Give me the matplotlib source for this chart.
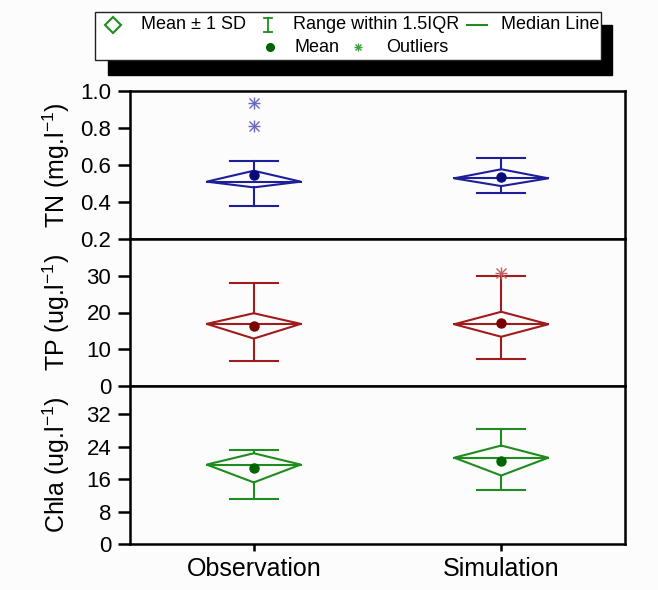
import matplotlib
matplotlib.use("Agg")
import matplotlib.pyplot as plt
from matplotlib.patches import Polygon, Rectangle
from matplotlib.lines import Line2D

plt.rcParams['font.family'] = ['Liberation Sans', 'DejaVu Sans']
plt.rcParams['mathtext.default'] = 'regular'

categories = ["Observation", "Simulation"]

# TN (mg/l)
tn_whisker_low = [0.378, 0.447]
tn_box_bottom = [0.479, 0.486]
tn_median = [0.510, 0.528]
tn_mean = [0.546, 0.537]
tn_box_top = [0.569, 0.577]
tn_whisker_high = [0.620, 0.640]
tn_outliers = [[0.811, 0.934], []]

# TP (ug/l)
tp_whisker_low = [6.9, 7.4]
tp_box_bottom = [12.9, 13.4]
tp_median = [16.9, 16.8]
tp_mean = [16.2, 17.1]
tp_box_top = [19.8, 20.2]
tp_whisker_high = [28.0, 30.0]
tp_outliers = [[], [30.7]]

# Chla (ug/l)
chla_whisker_low = [11.2, 13.3]
chla_box_bottom = [15.2, 16.9]
chla_median = [19.6, 21.3]
chla_mean = [18.7, 20.6]
chla_box_top = [22.4, 24.3]
chla_whisker_high = [23.3, 28.4]
chla_outliers = [[], []]

W, H = 658, 590
fig = plt.figure(figsize=(W / 100, H / 100), dpi=100)
fig.patch.set_facecolor('#fcfcfc')

def fx(px):
    return px / W

def fy(py):
    return 1 - py / H

left, right = 130, 625
bounds = [(91, 239), (239, 386), (386, 544)]
panels = [
    dict(lo=tn_whisker_low, bb=tn_box_bottom, med=tn_median, mean=tn_mean, bt=tn_box_top,
         hi=tn_whisker_high, out=tn_outliers, color='#1f1f99', dot='#0a0a7a', ocol='#6a6ac0',
         ylim=(0.2, 1.0), ticks=[0.2, 0.4, 0.6, 0.8, 1.0], fmt='{:.1f}', label='TN (mg.l$^{-1}$)'),
    dict(lo=tp_whisker_low, bb=tp_box_bottom, med=tp_median, mean=tp_mean, bt=tp_box_top,
         hi=tp_whisker_high, out=tp_outliers, color='#a01c1c', dot='#7a0000', ocol='#c06060',
         ylim=(0, 40), ticks=[0, 10, 20, 30], fmt='{:.0f}', label='TP (ug.l$^{-1}$)'),
    dict(lo=chla_whisker_low, bb=chla_box_bottom, med=chla_median, mean=chla_mean, bt=chla_box_top,
         hi=chla_whisker_high, out=chla_outliers, color='#1e8c1e', dot='#006400', ocol='#40a040',
         ylim=(0, 39), ticks=[0, 8, 16, 24, 32], fmt='{:.0f}', label='Chla (ug.l$^{-1}$)'),
]

dw = 0.19
cw = 0.096
xs = [1, 2]
for i, (p, (t, b)) in enumerate(zip(panels, bounds)):
    ax = fig.add_axes([fx(left), fy(b), fx(right) - fx(left), (b - t) / H])
    ax.set_facecolor('#fcfcfc')
    c = p['color']
    for j, x in enumerate(xs):
        poly = Polygon([(x - dw, p['med'][j]), (x, p['bt'][j]), (x + dw, p['med'][j]), (x, p['bb'][j])],
                       closed=True, fill=False, edgecolor=c, lw=1.5, joinstyle='miter')
        ax.add_patch(poly)
        ax.plot([x - dw, x + dw], [p['med'][j]] * 2, color=c, lw=1.5)
        ax.plot([x, x], [p['bt'][j], p['hi'][j]], color=c, lw=1.5)
        ax.plot([x, x], [p['bb'][j], p['lo'][j]], color=c, lw=1.5)
        ax.plot([x - cw, x + cw], [p['hi'][j]] * 2, color=c, lw=1.5)
        ax.plot([x - cw, x + cw], [p['lo'][j]] * 2, color=c, lw=1.5)
        ax.plot([x], [p['mean'][j]], 'o', color=p['dot'], ms=6.5, zorder=5)
        if p['out'][j]:
            for mk in ['+', 'x']:
                ax.plot([x] * len(p['out'][j]), p['out'][j], linestyle='none', marker=mk,
                        color=p['ocol'], ms=8 if mk == '+' else 6.5, mew=1.0)
    ax.set_xlim(0.5, 2.5)
    ax.set_ylim(*p['ylim'])
    ax.set_yticks(p['ticks'])
    ax.set_yticklabels([p['fmt'].format(v) for v in p['ticks']])
    ax.tick_params(axis='y', direction='out', length=8.5, width=1.8, labelsize=16, pad=5)
    for s in ax.spines.values():
        s.set_linewidth(1.8)
    if i < 2:
        ax.set_xticks([])
    else:
        ax.set_xticks(xs)
        ax.set_xticklabels(categories)
        ax.tick_params(axis='x', direction='out', length=5, width=1.8, labelsize=18, pad=4)
    fig.text(fx(56), fy((t + b) / 2), p['label'], rotation=90, ha='center', va='center', fontsize=18)

# Legend with shadow
fig.patches.append(Rectangle((fx(108), fy(75)), fx(612) - fx(108), fy(25) - fy(75),
                             transform=fig.transFigure, facecolor='black', edgecolor='black', zorder=1))
fig.patches.append(Rectangle((fx(95), fy(60)), fx(601) - fx(95), fy(12) - fy(60),
                             transform=fig.transFigure, facecolor='white', edgecolor='#222222', lw=1.0, zorder=2))
lg = '#1e8c1e'
r1, r2 = 24.5, 47
fig.add_artist(Line2D([fx(113)], [fy(r1)], marker='D', ms=8, mfc='none', mec=lg, mew=1.5,
                      transform=fig.transFigure, zorder=3))
fig.text(fx(141), fy(r1), 'Mean ± 1 SD', fontsize=13, va='center', ha='left', zorder=3)
# I symbol
fig.add_artist(Line2D([fx(268), fx(268)], [fy(r1 - 7), fy(r1 + 7)], color=lg, lw=1.3, transform=fig.transFigure, zorder=3))
fig.add_artist(Line2D([fx(264), fx(272)], [fy(r1 - 7)] * 2, color=lg, lw=1.3, transform=fig.transFigure, zorder=3))
fig.add_artist(Line2D([fx(264), fx(272)], [fy(r1 + 7)] * 2, color=lg, lw=1.3, transform=fig.transFigure, zorder=3))
fig.text(fx(293), fy(r1), 'Range within 1.5IQR', fontsize=13, va='center', ha='left', zorder=3)
fig.add_artist(Line2D([fx(467), fx(487)], [fy(r1)] * 2, color=lg, lw=1.5, transform=fig.transFigure, zorder=3))
fig.text(fx(501), fy(r1), 'Median Line', fontsize=13, va='center', ha='left', zorder=3)
fig.add_artist(Line2D([fx(270)], [fy(r2)], marker='o', ms=5.5, color='#006400',
                      transform=fig.transFigure, zorder=3))
fig.text(fx(295), fy(r2), 'Mean', fontsize=13, va='center', ha='left', zorder=3)
for mk, ms in [('+', 6), ('x', 4.5)]:
    fig.add_artist(Line2D([fx(358)], [fy(r2)], marker=mk, ms=ms, color='#40a040', mew=1.0,
                          transform=fig.transFigure, zorder=3))
fig.text(fx(386), fy(r2), 'Outliers', fontsize=13, va='center', ha='left', zorder=3)

fig.savefig('out.png', dpi=100, facecolor=fig.get_facecolor())
